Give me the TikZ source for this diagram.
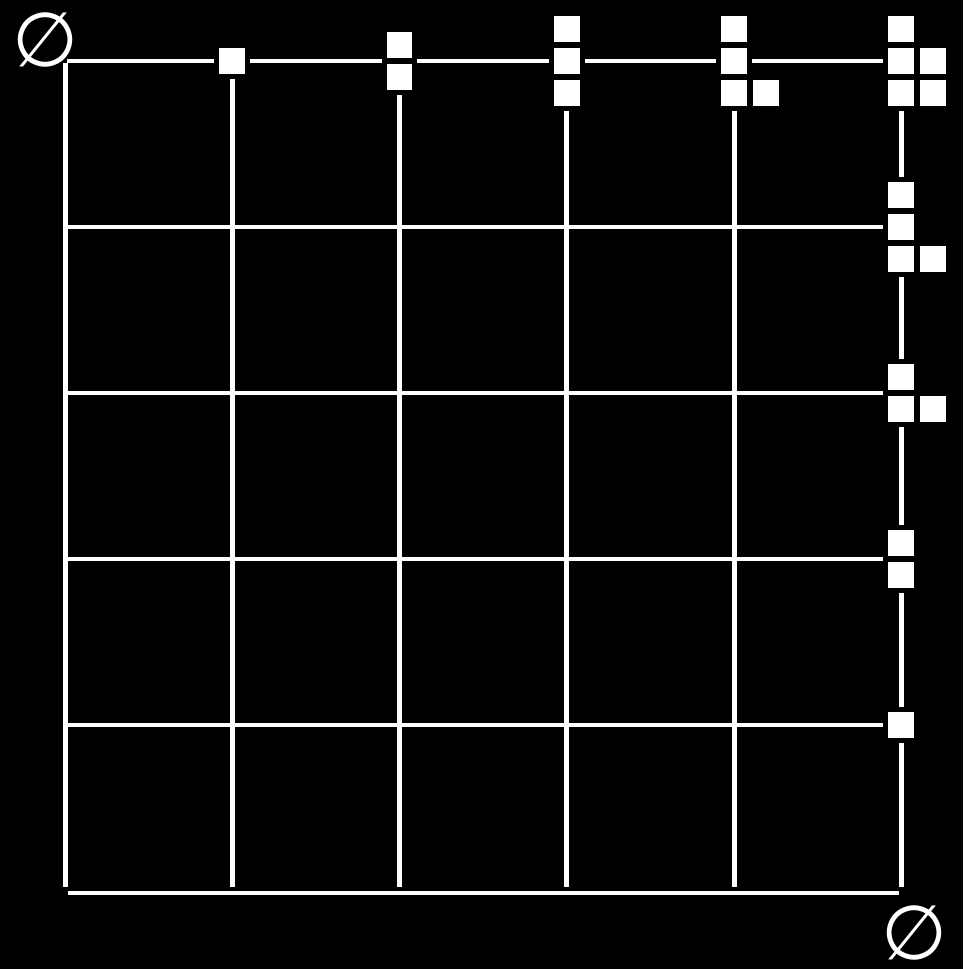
\documentclass[tikz,border=0pt]{standalone}
\usepackage{fontspec}
\newfontfamily\symfont{DejaVu Sans}

\begin{document}
\begin{tikzpicture}[
    x=29.5mm,y=-29.28mm,
    grid/.style={draw=white,line width=2.5pt},
    cell/.style={draw=black,fill=white,line width=2.5pt,minimum size=15.5pt,inner sep=0pt},
    nothing/.style={text=white,inner sep=0pt,font=\symfont\fontsize{38}{38}\selectfont}
  ]
    \useasboundingbox[fill=black] (-0.3888,-0.3675) rectangle (5.3708,5.4699);
    \foreach \i in {0,...,5}
      \foreach \j in {0,...,5}
        \coordinate (p-\i-\j) at (\i,\j);
    % lines of the grid
    \draw[grid,shorten <=1pt] (p-0-0) -- (p-5-0);
    \foreach \i in {0,...,5}
      \draw[grid,shorten <=1pt,shorten >=2pt] (p-\i-0) -- (p-\i-5);
    \foreach \j in {1,...,4}
      \draw[grid,shorten <=1.2pt] (p-0-\j) -- (p-5-\j);
    \draw[grid,shorten <=1.25pt,shorten >=1.25pt] ([yshift=-1pt]p-0-5) -- ([yshift=-1pt]p-5-5);
    % diagrams along the top row and the right column
    \foreach \c/\cells in {
        p-1-0/{0/0}, p-2-0/{0/.5,0/-.5}, p-3-0/{0/1,0/0,0/-1},
        p-4-0/{0/1,0/0,0/-1,1/-1}, p-5-0/{0/1,0/0,1/0,0/-1,1/-1},
        p-5-1/{0/1,0/0,0/-1,1/-1}, p-5-2/{0/.5,0/-.5,1/-.5},
        p-5-3/{0/.5,0/-.5}, p-5-4/{0/0}}
      \foreach \x/\y [count=\k] in \cells
        \node[cell] (\c-\k) at ([shift={(\x*16pt,\y*16pt)}]\c) {};
    \node[nothing] (e-top) at ([shift={(-10pt,10.5pt)}]p-0-0) {∅};
    \node[nothing] (e-bot) at ([shift={(6.75pt,-21.25pt)}]p-5-5) {∅};
  \end{tikzpicture}
\end{document}
